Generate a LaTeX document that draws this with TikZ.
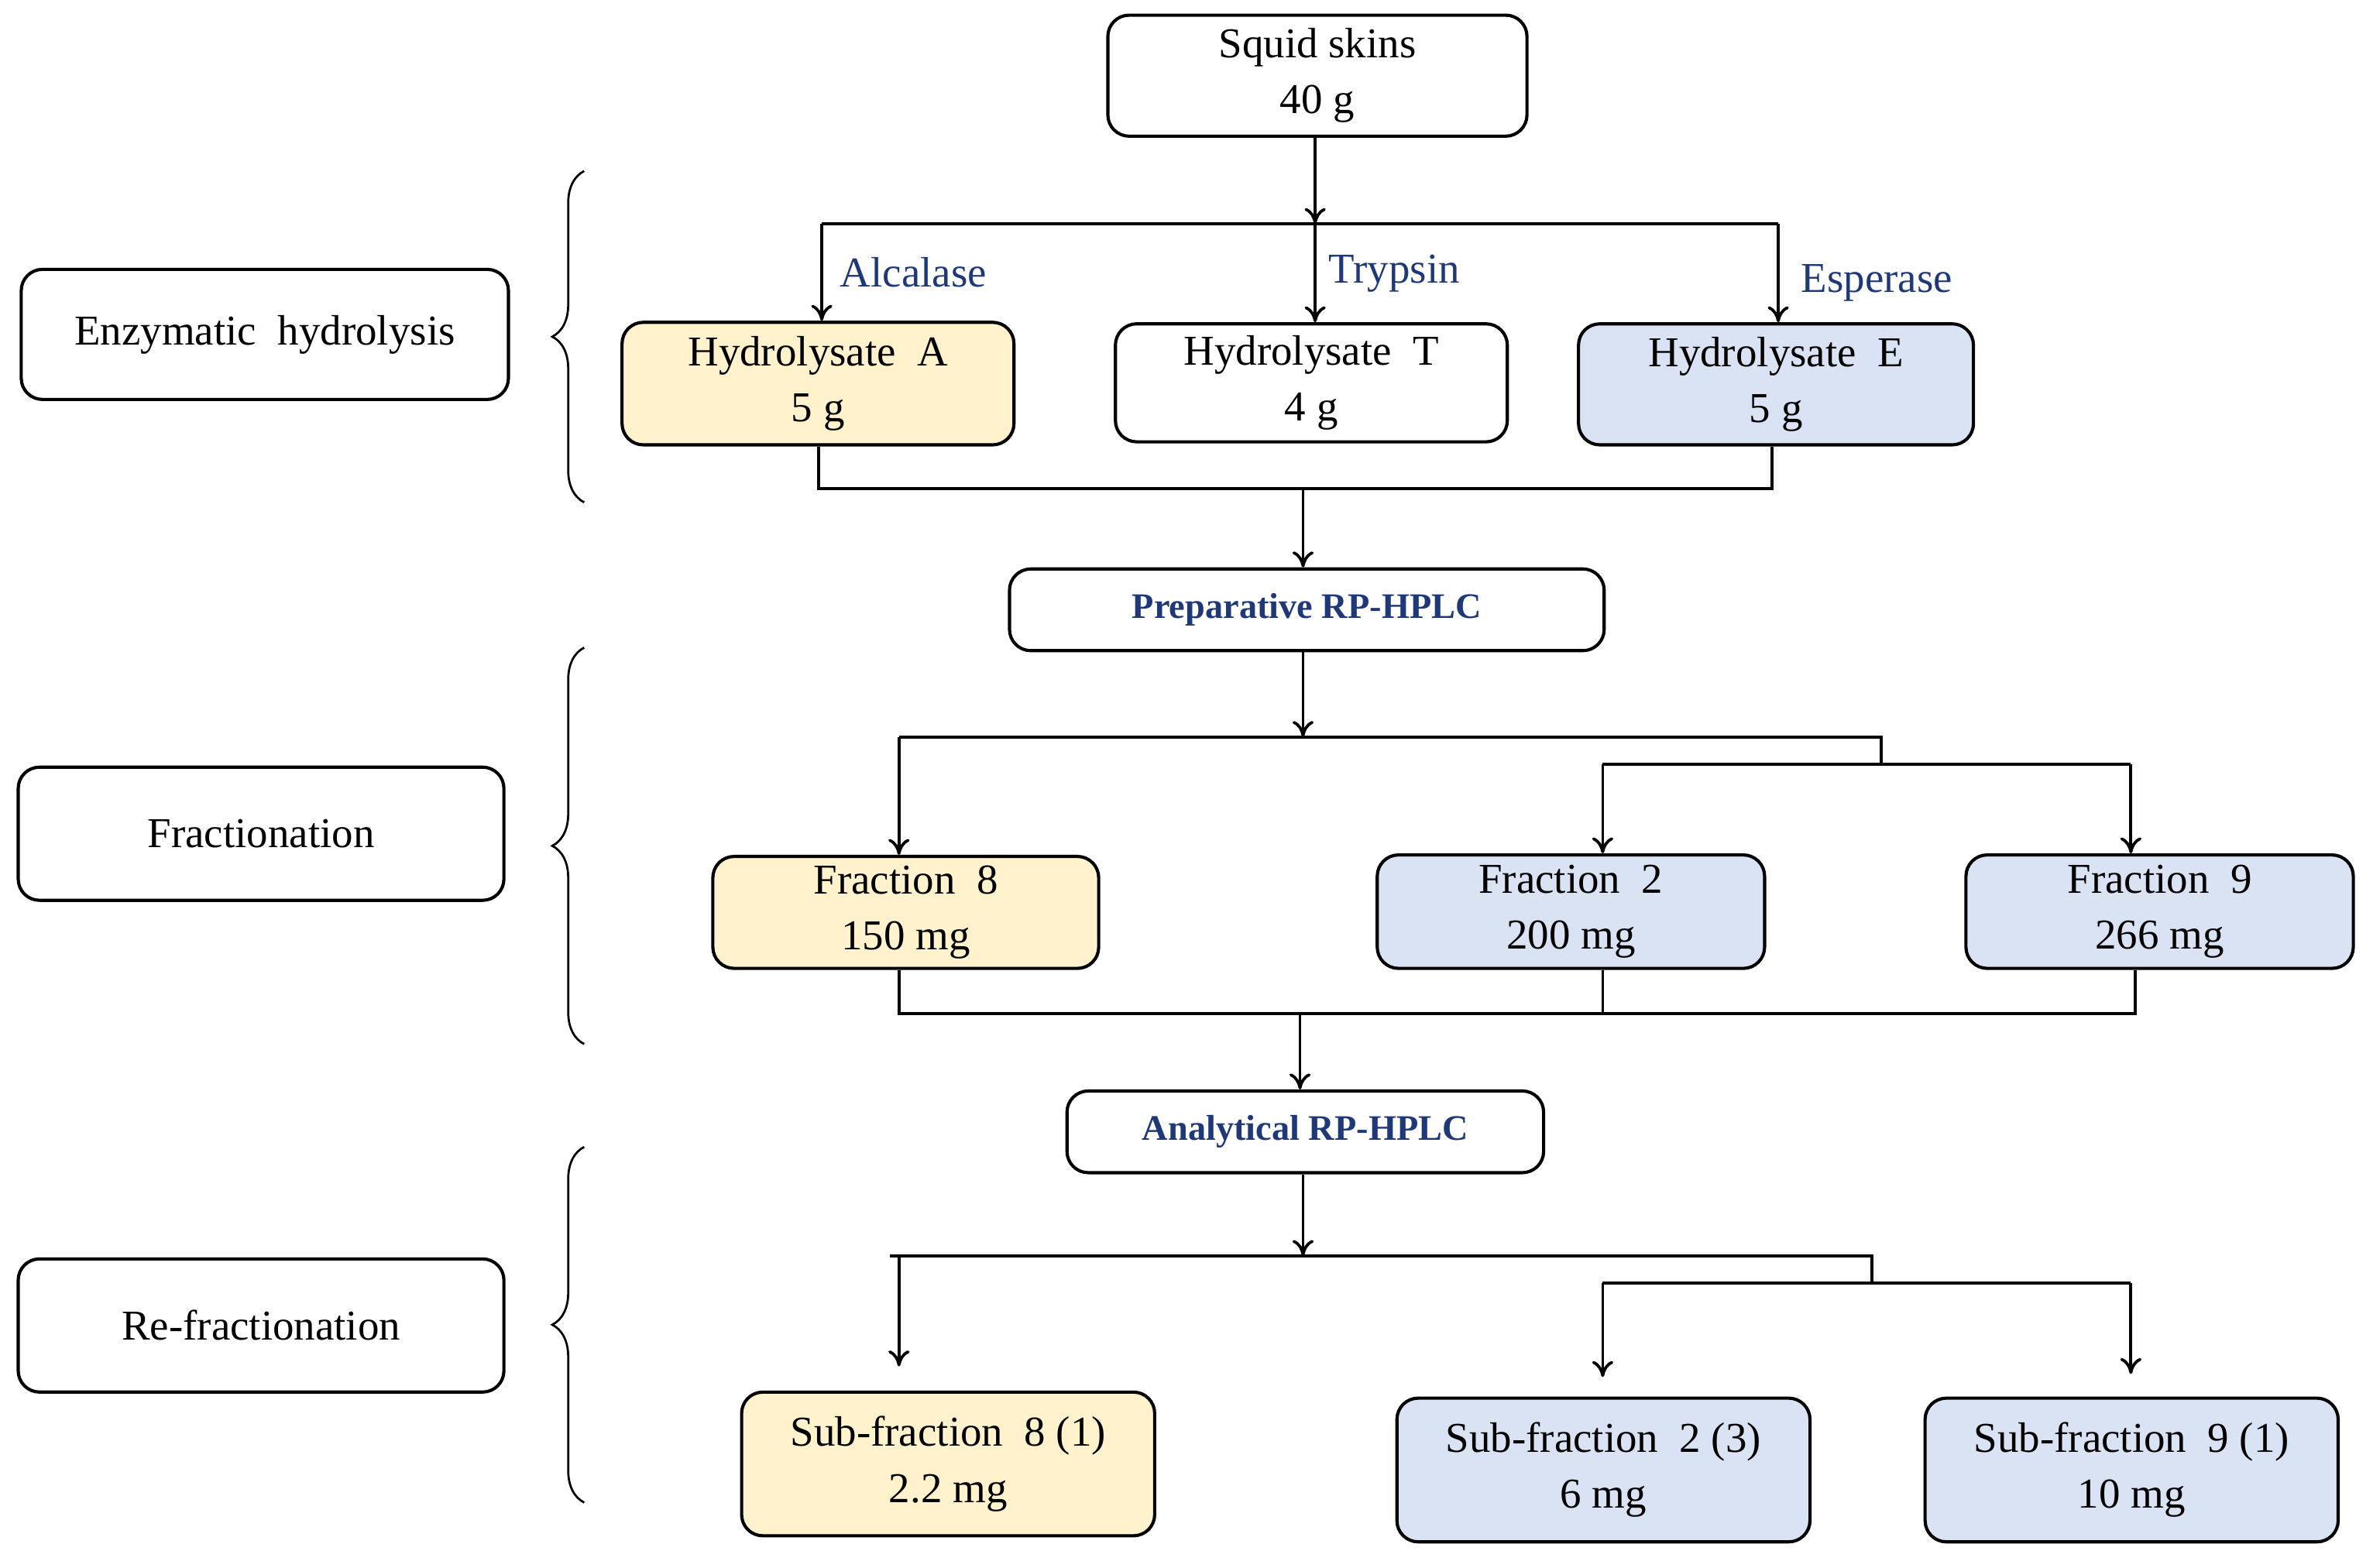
\documentclass[tikz,border=0pt]{standalone}
\usepackage{fontspec}
\setmainfont{Liberation Serif}
\usetikzlibrary{decorations.pathreplacing,arrows.meta}
\definecolor{yel}{HTML}{FFF2CC}
\definecolor{blu}{HTML}{DAE3F3}
\definecolor{navy}{HTML}{1F3877}
\begin{document}
\begin{tikzpicture}[x=0.02cm,y=-0.02cm,
  box/.style={draw,line width=1.2pt,rounded corners=8pt,align=center,inner sep=0pt,font=\fontsize{16}{21}\selectfont},
  lbl/.style={text=navy,font=\fontsize{16}{19}\selectfont,anchor=west,inner sep=1pt},
  ln/.style={line width=1.1pt},
  ar/.style={line width=1.1pt,-{To[length=6pt,width=8pt]}},
  br/.style={decorate,decoration={brace,amplitude=12pt},line width=0.8pt}]
\useasboundingbox (0,0) rectangle (1568,1036);
% boxes
\node[box,minimum width=5.54cm,minimum height=1.6cm] (sq) at (870.5,50) {Squid skins\\40 g};
\node[box,fill=yel,minimum width=5.18cm,minimum height=1.62cm] (ha) at (540.5,253.5) {Hydrolysate\ \ A\\5 g};
\node[box,minimum width=5.18cm,minimum height=1.56cm] (ht) at (866.5,253) {Hydrolysate\ \ T\\4 g};
\node[box,fill=blu,minimum width=5.22cm,minimum height=1.6cm] (he) at (1173.5,254) {Hydrolysate\ \ E\\5 g};
\node[box,minimum width=7.86cm,minimum height=1.08cm,text=navy,font=\fontsize{13.5}{16}\selectfont\bfseries] (prep) at (863.5,403) {Preparative RP-HPLC};
\node[box,fill=yel,minimum width=5.1cm,minimum height=1.48cm] (f8) at (598.5,603) {Fraction\ \ 8\\150 mg};
\node[box,fill=blu,minimum width=5.12cm,minimum height=1.5cm] (f2) at (1038,602.5) {Fraction\ \ 2\\200 mg};
\node[box,fill=blu,minimum width=5.12cm,minimum height=1.5cm] (f9) at (1427,602.5) {Fraction\ \ 9\\266 mg};
\node[box,minimum width=6.3cm,minimum height=1.08cm,text=navy,font=\fontsize{13.5}{16}\selectfont\bfseries] (ana) at (862.5,748) {Analytical RP-HPLC};
\node[box,fill=yel,minimum width=5.46cm,minimum height=1.9cm] (s8) at (626.5,967.5) {Sub-fraction\ \ 8 (1)\\2.2 mg};
\node[box,fill=blu,minimum width=5.46cm,minimum height=1.9cm] (s2) at (1059.5,971.5) {Sub-fraction\ \ 2 (3)\\6 mg};
\node[box,fill=blu,minimum width=5.46cm,minimum height=1.9cm] (s9) at (1408.5,971.5) {Sub-fraction\ \ 9 (1)\\10 mg};
\node[box,minimum width=6.44cm,minimum height=1.72cm] (enz) at (175,221) {Enzymatic\ \ hydrolysis};
\node[box,minimum width=6.42cm,minimum height=1.76cm] (fra) at (172.5,551) {Fractionation};
\node[box,minimum width=6.42cm,minimum height=1.76cm] (ref) at (172.5,876) {Re-fractionation};
% braces
\draw[br] (386,332) -- (386,113);
\draw[br] (386,690) -- (386,428);
\draw[br] (386,993) -- (386,758);
% stage 1
\coordinate (j1) at (869,148);
\draw[ar] (sq.south -| j1) -- (j1);
\draw[ln] (543,148) -- (1175,148);
\draw[ar] (543,148) -- (ha.north -| 543,0);
\draw[ar] (869,148) -- (ht.north -| 869,0);
\draw[ar] (1175,148) -- (he.north -| 1175,0);
\node[lbl] (la) at (553,180) {Alcalase};
\node[lbl] (lt) at (876,181) {Trypsin};
\node[lbl] (le) at (1188,187) {Esperase};
\draw[ln] (ha.south -| 541,0) -- (541,323) -- (1171,323) -- (he.south -| 1171,0);
\coordinate (j2) at (861,323);
\draw[ar] (j2) -- (prep.north -| j2);
% stage 2
\coordinate (j3) at (861,487);
\draw[ar] (prep.south -| j3) -- (j3);
\draw[ln] (594,487) -- (1243,487) -- (1243,505);
\draw[ln] (1059,505) -- (1408,505);
\draw[ar] (594,487) -- (f8.north -| 594,0);
\draw[ar] (1059,505) -- (f2.north -| 1059,0);
\draw[ar] (1408,505) -- (f9.north -| 1408,0);
\draw[ln] (f8.south -| 594,0) -- (594,670) -- (1411,670) -- (f9.south -| 1411,0);
\draw[ln] (f2.south -| 1059,0) -- (1059,670);
\coordinate (j4) at (859,670);
\draw[ar] (j4) -- (ana.north -| j4);
% stage 3
\coordinate (j5) at (861,830);
\draw[ar] (ana.south -| j5) -- (j5);
\draw[ln] (588,830) -- (1237,830) -- (1237,848);
\draw[ln] (1059,848) -- (1408,848);
\draw[ar] (594,830) -- (594,903);
\draw[ar] (1059,848) -- (1059,910);
\draw[ar] (1408,848) -- (1408,908);
\end{tikzpicture}
\end{document}
